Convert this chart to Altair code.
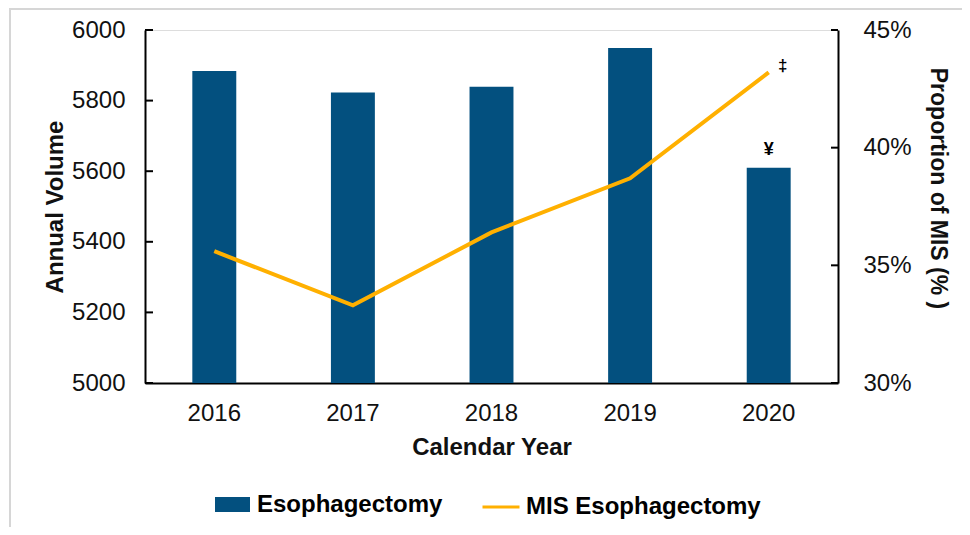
import altair as alt
import pandas as pd

# ---- data ----
years = ["2016", "2017", "2018", "2019", "2020"]
volume = [5884, 5823, 5839, 5949, 5610]          # Esophagectomy annual volume
mis_pct = [35.6, 33.3, 36.4, 38.7, 43.2]          # MIS proportion (%)
left_ticks = [5000, 5200, 5400, 5600, 5800, 6000]
right_ticks = [30, 35, 40, 45]
bar_name = "Esophagectomy"
line_name = "MIS Esophagectomy"
yen_mark = "¥"
dagger_mark = "‡"

BLUE = "#03507F"
ORANGE = "#FFB000"
FONT = "Liberation Sans"
W, H = 693, 353

df = pd.DataFrame({
    "year": years,
    "volume": volume,
    "mis": mis_pct,
    "bar_series": [bar_name] * len(years),
    "line_series": [line_name] * len(years),
})
last = df.iloc[[-1]].copy()
last["yen"] = yen_mark
last["dag"] = dagger_mark

lt = pd.DataFrame({"volume": left_ticks})
rt = pd.DataFrame({"mis": right_ticks})

x_axis = alt.Axis(
    title="Calendar Year", labelAngle=0, ticks=False,
    domainColor="black", domainWidth=2,
    labelFontSize=24, labelColor="#111", labelPadding=18, labelFont=FONT,
    titleFontSize=24, titleFontWeight="bold", titleColor="#111",
    titlePadding=10, titleFont=FONT,
)
x_scale = alt.Scale(paddingInner=0, paddingOuter=0)


def xe():
    return alt.X("year:N", sort=years, scale=x_scale, axis=x_axis)


left_scale = alt.Scale(domain=[5000, 6000], zero=False, nice=False)
right_scale = alt.Scale(domain=[30, 45], zero=False, nice=False)

left_axis = alt.Axis(
    orient="left", title="Annual Volume", values=left_ticks, ticks=False,
    format="d", grid=False, domainColor="black", domainWidth=2,
    labelFontSize=24, labelColor="#111", labelPadding=20, labelFont=FONT,
    titleFontSize=24, titleFontWeight="bold", titleColor="#111",
    titlePadding=4, titleFont=FONT,
)
right_axis = alt.Axis(
    orient="right", title="Proportion of MIS (% )", values=right_ticks,
    labelExpr="datum.value + '%'", ticks=False, grid=False,
    domainColor="black", domainWidth=2,
    labelFontSize=24, labelColor="#111", labelPadding=25, labelFont=FONT,
    titleFontSize=23, titleFontWeight="bold", titleColor="#111",
    titlePadding=14, titleFont=FONT, titleAngle=90, titleY=158,
)


def yl():
    return alt.Y("volume:Q", scale=left_scale, axis=left_axis, title="Annual Volume")


def yr():
    return alt.Y("mis:Q", scale=right_scale, axis=right_axis, title="Proportion of MIS (% )")


bars = alt.Chart(df).mark_bar(width=alt.RelativeBandSize(0.317)).encode(
    x=xe(),
    y=yl(),
    y2=alt.Y2(datum=5000),
    color=alt.Color(
        "bar_series:N",
        scale=alt.Scale(domain=[bar_name], range=[BLUE]),
        legend=alt.Legend(
            title=None, orient="none", legendX=70, legendY=457,
            symbolType="M-1,-0.43L1,-0.43L1,0.43L-1,0.43Z", symbolSize=1225,
            symbolStrokeWidth=0, symbolOpacity=1,
            labelFontSize=24, labelFontWeight="bold", labelColor="black",
            labelFont=FONT, labelOffset=7, labelLimit=0, padding=0,
        ),
    ),
)

lticks = alt.Chart(lt).mark_rule(color="black", strokeWidth=2).encode(
    y=yl(), x=alt.value(0), x2=alt.value(8),
)

yen = alt.Chart(last).mark_text(
    fontSize=18, fontWeight="bold", color="black", dy=-18, font=FONT
).encode(x=xe(), y=yl(), text="yen:N")

left_layer = alt.layer(bars, lticks, yen)

line = alt.Chart(df).mark_line(strokeWidth=4).encode(
    x=xe(),
    y=yr(),
    stroke=alt.Stroke(
        "line_series:N",
        scale=alt.Scale(domain=[line_name], range=[ORANGE]),
        legend=alt.Legend(
            title=None, orient="none", legendX=336, legendY=457,
            symbolType="stroke", symbolSize=1369, symbolStrokeWidth=3,
            labelFontSize=24, labelFontWeight="bold", labelColor="black",
            labelFont=FONT, labelOffset=5, labelLimit=0, padding=0,
        ),
    ),
)

rticks = alt.Chart(rt).mark_rule(color="black", strokeWidth=2).encode(
    y=yr(), x=alt.value(W - 7), x2=alt.value(W),
)

dag = alt.Chart(last).mark_text(
    fontSize=17, fontWeight="bold", color="black", dx=14, dy=-6, font=FONT
).encode(x=xe(), y=yr(), text="dag:N")

right_layer = alt.layer(line, rticks, dag)

frame_df = pd.DataFrame({"a": [0]})
frame_left = alt.Chart(frame_df).mark_rule(color="#d6d6d6", strokeWidth=2).encode(
    x=alt.value(-135), y=alt.value(-22), y2=alt.value(H + 144)
)
frame_top = alt.Chart(frame_df).mark_rule(color="#d6d6d6", strokeWidth=2).encode(
    x=alt.value(-135), x2=alt.value(W + 124), y=alt.value(-21)
)

chart = alt.layer(left_layer, right_layer, frame_left, frame_top).resolve_scale(
    y="independent"
).properties(
    width=W, height=H,
    autosize=alt.AutoSizeParams(type="none"),
    padding={"left": 137, "top": 22, "right": 124, "bottom": 144},
).configure_view(strokeOpacity=0, strokeWidth=0).configure(font=FONT)

chart.save("out.html", embed_options={"renderer": "svg", "actions": False})
